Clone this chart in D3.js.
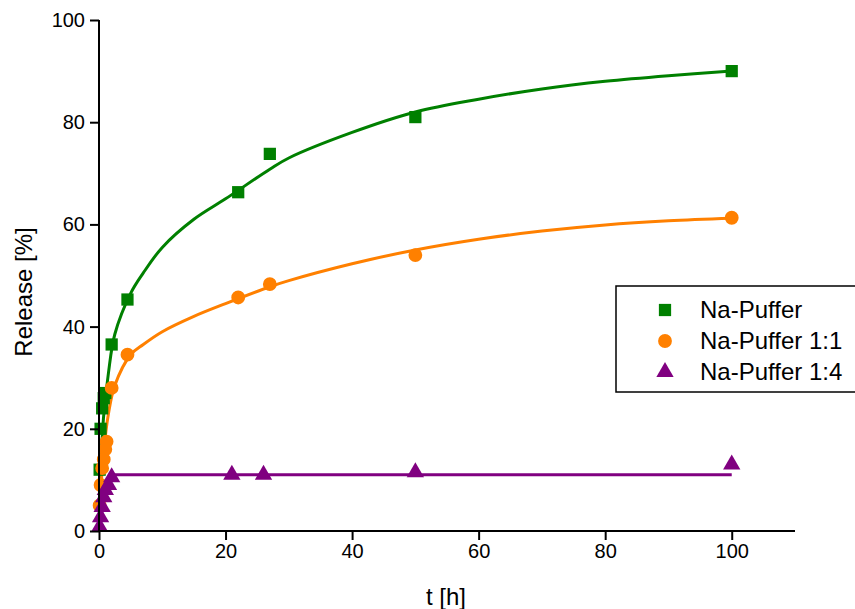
<!DOCTYPE html>
<html>
<head>
<meta charset="utf-8">
<script src="https://cdn.jsdelivr.net/npm/d3@7"></script>
<style>
body { margin: 0; background: #fff; overflow: hidden; }
text { font-family: "Liberation Sans", Arial, sans-serif; }
</style>
</head>
<body>
<div class="chart"></div>
<script>
// measured points
const tGreen = [0.1, 0.25, 0.5, 0.75, 1, 2, 4.5, 22, 27, 50, 100];
const yGreen = [12, 20, 24, 26, 27, 36.5, 45.3, 66.3, 73.8, 81, 90];
const tOrange = [0.1, 0.25, 0.5, 0.75, 1, 1.2, 2, 4.5, 22, 27, 50, 100];
const yOrange = [5, 9, 12.3, 14, 16, 17.5, 28, 34.5, 45.7, 48.3, 54, 61.3];
const tPurple = [0.1, 0.25, 0.5, 0.75, 1, 1.5, 2, 21, 26, 50, 100];
const yPurple = [0.8, 2.7, 4.7, 6.6, 8, 9, 10.5, 11, 11, 11.5, 13];

// fitted curves
const fitT = [0, 0.3, 0.7, 1.5, 2.5, 5, 7, 10, 15, 20, 27, 30, 40, 50, 60, 70, 80, 90, 100];
const fitGreen = [0, 13, 22, 31, 38.5, 46.5, 50.5, 55.5, 61, 65, 70.8, 73, 78, 82, 84.5, 86.5, 88, 89.1, 90];
const fitOrange = [0, 8, 15, 23, 28.5, 34.5, 36.5, 39, 42, 44.5, 47.8, 49, 52.3, 55, 57.1, 58.7, 59.9, 60.7, 61.2];
const fitPurpleT = [0, 0.5, 1, 1.5, 1.8, 3, 100];
const fitPurple = [0, 4, 7.5, 10, 11, 11, 11];

const series = ["Na-Puffer", "Na-Puffer 1:1", "Na-Puffer 1:4"];
const colors = ["#008000", "#ff8000", "#800080"];
const xTicks = [0, 20, 40, 60, 80, 100];
const yTicks = [0, 20, 40, 60, 80, 100];

const width = 855, height = 609;
const svg = d3.select('.chart').append('svg')
	.attr('width', width)
	.attr('height', height);

const x = d3.scaleLinear().domain([0, 110]).range([99, 795]);
const y = d3.scaleLinear().domain([0, 100]).range([531, 20]);

// curves
const smooth = d3.line().x(d => x(d[0])).y(d => y(d[1])).curve(d3.curveCatmullRom.alpha(0.5));
const sharp = d3.line().x(d => x(d[0])).y(d => y(d[1])).curve(d3.curveMonotoneX);
const fits = [
	smooth(d3.zip(fitT, fitGreen)),
	smooth(d3.zip(fitT, fitOrange)),
	sharp(d3.zip(fitPurpleT, fitPurple))
];
fits.forEach((f, i) => {
	svg.append('path')
		.attr('d', f)
		.attr('fill', 'none')
		.attr('stroke', colors[i])
		.attr('stroke-width', 3);
});

// markers
const sym = [d3.symbolSquare, d3.symbolCircle, d3.symbolTriangle];
const sizes = [150, 150, 130];
const pts = [
	d3.zip(tGreen, yGreen),
	d3.zip(tOrange, yOrange),
	d3.zip(tPurple, yPurple)
];
pts.forEach((p, i) => {
	svg.selectAll('.m' + i)
		.data(p)
		.enter()
		.append('path')
		.attr('class', 'm' + i)
		.attr('d', d3.symbol().type(sym[i]).size(sizes[i]))
		.attr('transform', d => `translate(${x(d[0])},${y(d[1])})`)
		.attr('fill', colors[i]);
});

// axes
const xAxis = svg.append('g').attr('transform', 'translate(0,531)');
xAxis.call(d3.axisBottom(x).tickValues(d3.range(0, 111, 10)).tickSize(6).tickFormat(''));
xAxis.call(d3.axisBottom(x).tickValues(xTicks).tickSize(9).tickPadding(4).tickFormat(d3.format('d')));
xAxis.selectAll('path.domain').remove();
xAxis.append('line').attr('x1', 99).attr('x2', 795).attr('stroke', '#000').attr('stroke-width', 2);

const yAxis = svg.append('g').attr('transform', 'translate(99,0)');
yAxis.call(d3.axisLeft(y).tickValues(d3.range(0, 101, 10)).tickSize(6).tickFormat(''));
yAxis.call(d3.axisLeft(y).tickValues(yTicks).tickSize(9).tickPadding(5).tickFormat(d3.format('d')));
yAxis.selectAll('path.domain').remove();
yAxis.append('line').attr('y1', 20).attr('y2', 532).attr('stroke', '#000').attr('stroke-width', 2);

svg.selectAll('.tick line').attr('stroke-width', 2);
svg.selectAll('.tick text').attr('font-size', 20).attr('fill', '#000')
	.attr('font-family', '"Liberation Sans", Arial, sans-serif');

svg.append('text')
	.attr('x', 446).attr('y', 605)
	.attr('text-anchor', 'middle')
	.attr('font-size', 24)
	.text('t [h]');
svg.append('text')
	.attr('transform', 'translate(32,292) rotate(-90)')
	.attr('text-anchor', 'middle')
	.attr('font-size', 24)
	.text('Release [%]');

// legend
const lg = svg.append('g');
lg.append('rect')
	.attr('x', 616).attr('y', 286).attr('width', 260).attr('height', 106)
	.attr('fill', '#fff').attr('stroke', '#000').attr('stroke-width', 1.5);
series.forEach((s, i) => {
	const ly = 310 + i * 31;
	lg.append('path')
		.attr('d', d3.symbol().type(sym[i]).size(sizes[i])())
		.attr('transform', `translate(665,${ly})`)
		.attr('fill', colors[i]);
	lg.append('text')
		.attr('x', 700).attr('y', ly + 8)
		.attr('font-size', 24)
		.text(s);
});
</script>
</body>
</html>
